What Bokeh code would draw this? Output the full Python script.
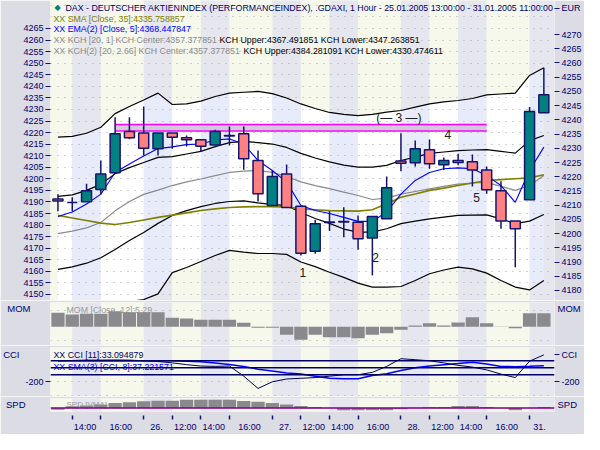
import math
from bokeh.plotting import figure
from bokeh.models import Range1d, LinearAxis, FixedTicker, Label, Span, Grid, ColumnDataSource
from bokeh.layouts import column
from bokeh.embed import file_html
from bokeh.resources import INLINE

# ---------------- data ----------------
bars = list(range(35))  # hourly bars 25.01.2005 13:00 .. 31.01.2005 11:00
tick_idx = [1, 3, 6, 8, 10, 12, 15, 17, 19, 21, 24, 26, 28, 30, 33]
tick_labels = ["14:00", "16:00", "26.", "12:00", "14:00", "16:00", "27.", "12:00", "14:00",
               "16:00", "28.", "12:00", "14:00", "16:00", "31."]
left_ticks = list(range(4150, 4266, 5))
right_ticks = list(range(4180, 4271, 5))

open_ = [4212.2, 4210.9, 4211.2, 4215.5, 4221.4, 4235.9, 4235.4, 4229.8, 4235.4, 4233.7,
         4233.0, 4231.2, 4234.5, 4235.1, 4225.7, 4209.9, 4221.0, 4209.6, 4193.8, 4204.1,
         4204.3, 4204.0, 4198.5, 4205.2, 4225.5, 4224.9, 4229.5, 4224.2, 4225.7, 4225.3,
         4222.4, 4215.1, 4204.4, 4211.9, 4242.5]
high = [4213.8, 4212.8, 4217.5, 4225.7, 4240.9, 4240.9, 4244.7, 4235.4, 4235.4, 4234.5,
        4233.0, 4236.5, 4237.7, 4237.7, 4229.2, 4222.2, 4224.3, 4209.6, 4204.9, 4207.9,
        4209.3, 4206.4, 4206.0, 4220.1, 4235.3, 4232.7, 4233.1, 4226.8, 4228.1, 4227.8,
        4223.6, 4218.4, 4204.4, 4244.5, 4258.3]
low = [4207.9, 4207.9, 4211.2, 4213.8, 4221.0, 4233.2, 4227.5, 4227.5, 4229.8, 4230.6,
       4228.9, 4231.2, 4231.0, 4222.5, 4211.3, 4209.9, 4209.2, 4192.3, 4192.9, 4200.9,
       4198.7, 4194.3, 4185.3, 4205.2, 4221.9, 4223.6, 4222.8, 4222.4, 4224.0, 4216.6,
       4214.0, 4201.7, 4188.2, 4211.9, 4242.5]
close = [4211.5, 4210.9, 4215.1, 4221.0, 4235.1, 4233.7, 4230.0, 4235.4, 4233.9, 4233.0,
         4230.7, 4235.9, 4234.3, 4226.3, 4214.0, 4220.1, 4209.2, 4193.1, 4203.5, 4203.9,
         4204.1, 4198.2, 4206.0, 4216.1, 4224.7, 4229.8, 4224.6, 4225.7, 4225.0, 4222.4,
         4215.4, 4204.4, 4201.7, 4242.9, 4248.8]

kch2_upper = [4233.9, 4234.2, 4235.3, 4237.4, 4242.2, 4244.7, 4247.0, 4249.4, 4245.4, 4245.6,
              4246.6, 4248.2, 4249.4, 4249.7, 4250.0, 4249.2, 4247.7, 4245.6, 4244.0, 4242.6,
              4241.9, 4241.5, 4241.9, 4242.7, 4243.3, 4244.5, 4245.6, 4246.3, 4246.8, 4247.5,
              4248.8, 4249.1, 4249.4, 4255.6, 4258.3]
kch2_lower = [4165.9, 4167.3, 4168.7, 4170.9, 4173.7, 4176.1, 4176.8, 4178.8, 4186.3, 4188.1,
              4190.2, 4192.3, 4194.1, 4193.5, 4193.0, 4193.0, 4192.7, 4190.0, 4188.4, 4186.4,
              4184.6, 4182.6, 4181.2, 4181.2, 4181.4, 4183.5, 4185.9, 4187.2, 4188.2, 4187.6,
              4186.1, 4183.5, 4181.2, 4180.2, 4183.5]
kch_upper = [4213.1, 4213.6, 4215.2, 4217.3, 4221.1, 4223.2, 4225.0, 4226.8, 4227.1, 4228.0,
             4228.9, 4230.6, 4232.0, 4232.4, 4232.0, 4231.5, 4230.3, 4228.2, 4226.6, 4225.2,
             4224.1, 4223.4, 4223.4, 4224.0, 4225.7, 4226.9, 4228.2, 4228.7, 4229.2, 4229.4,
             4229.5, 4228.9, 4228.3, 4232.7, 4234.5]
kch_lower = [4187.4, 4188.3, 4189.6, 4191.5, 4194.4, 4197.6, 4200.4, 4203.6, 4206.4, 4208.1,
             4209.5, 4210.6, 4211.3, 4211.5, 4210.8, 4210.2, 4209.9, 4207.4, 4205.3, 4203.6,
             4201.6, 4200.5, 4200.5, 4201.7, 4203.5, 4204.4, 4205.2, 4205.8, 4206.4, 4206.5,
             4206.6, 4205.2, 4203.5, 4204.4, 4206.7]
kch_center = [4200.0, 4200.9, 4202.0, 4203.9, 4208.0, 4211.3, 4213.8, 4215.3, 4216.9, 4218.2,
              4219.2, 4220.4, 4221.5, 4222.0, 4222.2, 4221.5, 4220.1, 4218.2, 4216.9, 4215.8,
              4214.6, 4213.4, 4212.0, 4212.5, 4213.9, 4214.8, 4215.7, 4216.6, 4217.4, 4217.8,
              4218.0, 4216.6, 4215.2, 4216.9, 4220.4]
sma35 = [4206.4, 4205.5, 4204.6, 4203.7, 4203.2, 4203.9, 4204.8, 4205.7, 4206.5, 4207.3,
         4208.1, 4208.7, 4209.2, 4209.4, 4209.5, 4209.5, 4209.4, 4208.7, 4208.4, 4208.1,
         4208.0, 4207.9, 4208.4, 4210.5, 4212.8, 4213.9, 4215.2, 4216.0, 4216.9, 4217.8,
         4218.7, 4219.0, 4219.3, 4219.6, 4220.7]
ema5 = [4206.0, 4207.6, 4210.4, 4213.9, 4221.5, 4224.5, 4227.3, 4229.9, 4230.5, 4231.3,
        4231.5, 4232.9, 4233.3, 4231.5, 4225.7, 4222.2, 4218.1, 4209.9, 4208.1, 4207.1,
        4205.7, 4204.3, 4204.3, 4207.6, 4213.9, 4218.7, 4221.5, 4222.8, 4223.1, 4222.8,
        4220.4, 4216.9, 4211.0, 4222.2, 4230.4]

zone_start, zone_end = 4, 30
zone_low, zone_high = 4236.1, 4238.4

note_text = ["1", "2", "(\u2014 3 \u2014)", "4", "5"]
note_x = [17.13, 22.22, 23.85, 27.28, 29.3]
note_y = [4186.4, 4191.6, 4240.7, 4234.9, 4212.8]

mom = [43.4, 38.1, 40.3, 40.3, 48.4, 45.3, 45.3, 45.3, 27.9, 25.7, 21.7, 21.7, 21.7, 12.4,
       -3.1, -3.1, -24.8, -40.3, -24.8, -32.2, -32.2, -35.3, -24.8, -19.8, -9.3, 4.0, 11.2,
       4.0, 13.3, 29.8, 11.2, 0.9, -4.3, 42.2, 42.2]
cci = [100, 105, 110, 110, 112, 110, 100, 90, 70, 45, 25, 20, 25, -120, -295, -200, -160,
       -150, -140, -120, -100, -100, -65, 20, 130, 116, 100, 70, 35, 10, -30, -90, -140, 95, 185]
cci_sma = [100, 100, 100, 100, 100, 100, 100, 100, 100, 95, 88, 70, 47, 20, -20, -45, -75,
           -90, -120, -150, -157, -157, -110, -85, -40, 0, 25, 45, 60, 78, 55, 20, 15, 22, 30]
cci_levels = [100, 0, -100]
spd = [-20, 20, 30, 40, 57, 67, 77, 83, 83, 97, 97, 97, 97, 80, 73, 57, 40, 23, 13, 0,
       -27, -27, -27, -27, -13, 3, 13, 13, 23, 23, 13, 0, -27, 0, 13]

# ---------------- styling ----------------
IVORY = "#f5f8eb"
SGRAY = "#e6e6ee"
IN_WHITE = "#ffffff"
IN_BLUE = "#e7ebfa"
BORDER = "#dcdce5"
NAVY = "#14146e"
TXT = "#000070"
TEAL = "#008080"
PINK = "#ff8080"
BARG = "#89898e"
FONT = "Liberation Sans"
LEG = "8.8px"
W = 584
XR = Range1d(-0.522, 34.745)
bounds = [XR.start] + tick_idx + [XR.end]


def base_fig(height, y0, y1, top=0, bottom=0):
    p = figure(width=W, height=height, x_range=XR, y_range=Range1d(y0, y1),
               x_axis_location=None, y_axis_location=None,
               output_backend="svg", toolbar_location=None,
               min_border_left=48, min_border_right=29,
               min_border_top=top, min_border_bottom=bottom,
               background_fill_color=IVORY, border_fill_color=BORDER,
               outline_line_color=None)
    for g in p.grid:
        g.visible = False
    src = ColumnDataSource(dict(left=bounds[:-1], right=bounds[1:],
                                color=[IVORY if k % 2 == 0 else SGRAY for k in range(len(bounds) - 1)]))
    span = y1 - y0
    p.quad(left="left", right="right", top=y1 + span, bottom=y0 - span, fill_color="color",
           line_color=None, source=src, level="image")
    return p


def style_axis(ax, size="9px"):
    ax.axis_line_color = None
    ax.major_tick_line_color = NAVY
    ax.major_tick_out = 5
    ax.major_tick_in = 0
    ax.minor_tick_line_color = None
    ax.major_label_text_color = TXT
    ax.major_label_text_font = FONT
    ax.major_label_text_font_size = size
    ax.major_label_standoff = 2


def name_axis(p, side, val, text, standoff):
    # panel name shown in the side margin as a single tick label without a tick mark
    ax = LinearAxis(ticker=FixedTicker(ticks=[val]), major_label_overrides={val: text})
    ax.axis_line_color = None
    ax.major_tick_line_color = None
    ax.major_tick_out = 0
    ax.major_tick_in = 0
    ax.minor_tick_line_color = None
    ax.major_label_standoff = standoff
    ax.major_label_text_color = TXT
    ax.major_label_text_font = FONT
    ax.major_label_text_font_size = "9.5px"
    p.add_layout(ax, side)


def add_grid(p, ticks):
    g = Grid(dimension=1, ticker=FixedTicker(ticks=ticks), grid_line_color="#a4a4ae",
             grid_line_dash="1 6", grid_line_width=1)
    p.add_layout(g)


def lab(p, text, x, y, color=TXT, size=LEG, align="left", level=None, font=FONT):
    l = Label(x=x, y=y, x_units="screen", y_units="screen", text=text, text_color=color,
              text_font_size=size, text_align=align, text_baseline="middle", text_font=font)
    if level:
        l.level = level
    p.add_layout(l)


# ---------------- main price panel ----------------
pm = base_fig(300, 4147.4, 4277.1)
pm.extra_y_ranges = {"eur": Range1d(4176.48, 4281.97)}
for k in range(len(bounds) - 1):
    a = max(0, math.ceil(bounds[k]))
    b = min(len(bars) - 1, math.floor(bounds[k + 1]))
    pm.varea(x=bars[a:b + 1], y1=kch2_lower[a:b + 1], y2=kch2_upper[a:b + 1],
             fill_color=IN_WHITE if k % 2 == 0 else IN_BLUE, y_range_name="eur", level="image")
add_grid(pm, list(range(4150, 4276, 5)))

lax = LinearAxis(ticker=FixedTicker(ticks=left_ticks))
style_axis(lax)
pm.add_layout(lax, "left")
EUR_POS = 4279.2  # currency caption at the top of the price scale
rax = LinearAxis(y_range_name="eur", ticker=FixedTicker(ticks=right_ticks + [EUR_POS]),
                 major_label_overrides={EUR_POS: "EUR"})
style_axis(rax)
pm.add_layout(rax, "right")

pm.quad(left=zone_start, right=zone_end, bottom=zone_low, top=zone_high, fill_color="#c9c9d4",
        fill_alpha=0.9, line_color=None, y_range_name="eur")
pm.segment(x0=[zone_start, zone_start], x1=[zone_end, zone_end], y0=[zone_high, zone_low],
           y1=[zone_high, zone_low], line_color="#ff00ff", line_width=1.5, y_range_name="eur")

for arr, col, w in [(kch2_upper, "#000000", 1.2), (kch2_lower, "#000000", 1.2),
                    (kch_upper, "#000000", 1.2), (kch_lower, "#000000", 1.2),
                    (kch_center, "#8a8a8a", 1.2), (sma35, "#808000", 1.6), (ema5, "#0000ff", 1.1)]:
    pm.line(bars, arr, line_color=col, line_width=w, y_range_name="eur")

csrc = ColumnDataSource(dict(
    x=bars, high=high, low=low,
    top=[max(o, c) for o, c in zip(open_, close)],
    bottom=[min(o, c) for o, c in zip(open_, close)],
    color=[TEAL if c > o else (PINK if c < o else NAVY) for o, c in zip(open_, close)]))
pm.segment(x0="x", x1="x", y0="low", y1="high", line_color=NAVY, line_width=1.5,
           source=csrc, y_range_name="eur")
pm.vbar(x="x", width=0.7, top="top", bottom="bottom", fill_color="color", line_color=NAVY,
        line_width=1.5, source=csrc, y_range_name="eur")

for t, x, y in zip(note_text, note_x, note_y):
    pm.add_layout(Label(x=x, y=y, y_range_name="eur", text=t, text_color="#202020",
                        text_font=FONT, text_font_size="12px", text_align="center",
                        text_baseline="middle"))

# header legend (frame-relative screen coords, frame bottom = 300)
lab(pm, "\u25C6", 7, 293, color=TEAL, size="8px", align="center", font="DejaVu Sans")
lab(pm, "DAX - DEUTSCHER AKTIENINDEX (PERFORMANCEINDEX), .GDAXI, 1 Hour - 25.01.2005 13:00:00 - 31.01.2005 11:00:00",
    15, 293, color=TXT)
lab(pm, "XX SMA [Close, 35]:4335.758857", 3, 282, color="#808000")
lab(pm, "XX EMA(2) [Close, 5]:4368.447847", 3, 272, color="#0000ff")
lab(pm, "XX KCH [20, 1] KCH Center:4357.377851", 3, 261, color="#8c8c8c")
lab(pm, "KCH Upper:4367.491851 KCH Lower:4347.263851", 169, 261, color="#000000")
lab(pm, "XX KCH(2) [20, 2.66] KCH Center:4357.377851", 3, 250, color="#8c8c8c")
lab(pm, "KCH Upper:4384.281091 KCH Lower:4330.474611", 193, 250, color="#000000")

# ---------------- MOM panel ----------------
pmo = base_fig(45, -58.0, 75.3, top=2)
add_grid(pmo, [50, -42])
lab(pmo, "MOM [Close, 12]:5.29", 16, 36, color="#9a9a9a", level="underlay")
pmo.vbar(x=bars, top=mom, bottom=0, width=0.93, fill_color=BARG, line_color=None)
name_axis(pmo, "left", 56.7, "MOM", 20)
name_axis(pmo, "right", 56.7, "MOM", 3)

# ---------------- CCI panel ----------------
pc = base_fig(51, -410.4, 290.3, top=2)
add_grid(pc, [-200, -400])
cl = LinearAxis(ticker=FixedTicker(ticks=[-200]), major_label_overrides={-200: "-200"})
style_axis(cl)
pc.add_layout(cl, "left")
name_axis(pc, "left", 190, "CCI", 3)
cr = LinearAxis(ticker=FixedTicker(ticks=[-200, 190]), major_label_overrides={-200: "-200", 190: "CCI"})
style_axis(cr)
pc.add_layout(cr, "right")
lab(pc, "XX CCI [11]:33.094879", 3, 41.5, color="#000060", level="underlay")
lab(pc, "XX SMA(3) [CCI, 8]:37.221571", 3, 29.3, color="#0000ff", level="underlay")
for lv in cci_levels:
    pc.add_layout(Span(location=lv, dimension="width", line_color="#000066", line_width=1.5))
pc.line(bars, cci_sma, line_color="#0000ff", line_width=1.5)
pc.line(bars, cci, line_color="#000050", line_width=1)

# ---------------- SPD panel + time axis ----------------
ps = base_fig(38, -40, 110, top=2, bottom=21)
lab(ps, "SPD [VMA]", 16, 7, color="#9a9a9a", size="8px", level="underlay")
ps.vbar(x=bars, top=spd, bottom=0, width=0.93, fill_color=BARG, line_color=None)
ps.add_layout(Span(location=0, dimension="width", line_color="#800080", line_width=1.5))
name_axis(ps, "left", 40, "SPD", 25)
name_axis(ps, "right", 40, "SPD", 3)

nxt = tick_idx[1:] + [34.6]
label_pos = [round((t + n) / 2 - 0.1, 2) for t, n in zip(tick_idx, nxt)]
xax = LinearAxis(ticker=FixedTicker(ticks=label_pos, minor_ticks=tick_idx),
                 major_label_overrides={p: t for p, t in zip(label_pos, tick_labels)})
xax.axis_line_color = None
xax.major_tick_line_color = None
xax.major_tick_out = 8
xax.major_tick_in = 0
xax.minor_tick_line_color = NAVY
xax.minor_tick_line_width = 1.5
xax.minor_tick_out = 8
xax.minor_tick_in = -4
xax.major_label_standoff = 2
xax.major_label_text_color = TXT
xax.major_label_text_font = FONT
xax.major_label_text_font_size = "9px"
ps.add_layout(xax, "below")

layout = column(pm, pmo, pc, ps)
open("out.html", "w").write(file_html(layout, INLINE))
